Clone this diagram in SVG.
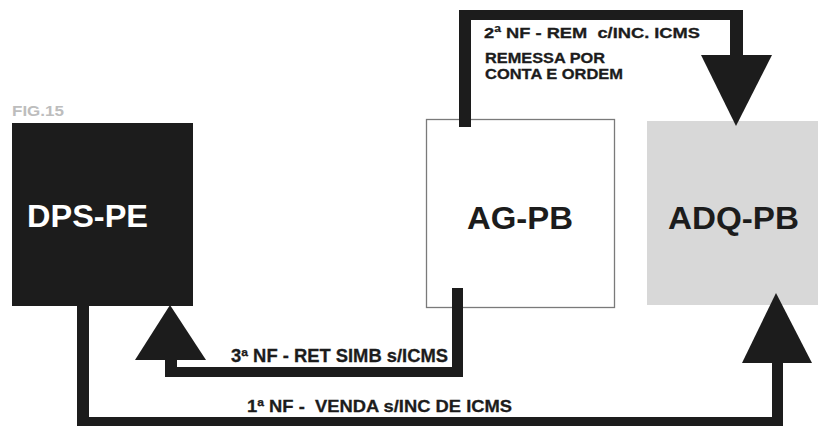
<svg xmlns="http://www.w3.org/2000/svg" width="818" height="426" viewBox="0 0 818 426">
  <style>
    .lbl { font-family: "Liberation Sans", Arial, sans-serif; font-weight: bold; }
    .bar { fill: #1c1c1c; }
    .node-title { font-family: "Liberation Sans", Arial, sans-serif; font-weight: bold; font-size: 31px; }
    .edge-label { font-family: "Liberation Sans", Arial, sans-serif; font-weight: bold; fill: #1c1c1c; stroke: #1c1c1c; stroke-width: 0.3; white-space: pre; }
  </style>
  <rect width="818" height="426" fill="#ffffff"/>
  <text x="12" y="116" class="lbl" font-size="14" fill="#bdbdbd" textLength="52" lengthAdjust="spacingAndGlyphs">FIG.15</text>

  <g id="node-dps-pe">
    <rect x="12" y="123" width="181" height="183" fill="#1c1c1c"/>
    <text x="27" y="227" class="node-title" fill="#ffffff" textLength="121" lengthAdjust="spacingAndGlyphs">DPS-PE</text>
  </g>
  <g id="node-ag-pb">
    <rect x="426.5" y="119.5" width="188" height="188" fill="#ffffff" stroke="#7a7a7a" stroke-width="1.3"/>
    <text x="467" y="229" class="node-title" fill="#1c1c1c" textLength="106" lengthAdjust="spacingAndGlyphs">AG-PB</text>
  </g>
  <g id="node-adq-pb">
    <rect x="647" y="121" width="171" height="184" fill="#d8d8d8"/>
    <text x="668" y="229" class="node-title" fill="#1c1c1c" textLength="131" lengthAdjust="spacingAndGlyphs">ADQ-PB</text>
  </g>

  <g id="connectors">
    <g id="edge-2nf">
      <rect class="bar" x="459" y="10" width="12" height="117"/>
      <rect class="bar" x="459" y="10" width="284" height="10"/>
      <rect class="bar" x="730" y="10" width="13" height="46"/>
      <polygon class="bar" points="701,55 772,55 736,126"/>
      <text x="484" y="38" class="edge-label" font-size="15.5" textLength="216" lengthAdjust="spacingAndGlyphs" xml:space="preserve">2ª NF - REM  c/INC. ICMS</text>
      <text x="485" y="63" class="edge-label" font-size="14.5" textLength="120" lengthAdjust="spacingAndGlyphs">REMESSA POR</text>
      <text x="485" y="79" class="edge-label" font-size="14.5" textLength="138" lengthAdjust="spacingAndGlyphs">CONTA E ORDEM</text>
    </g>
    <g id="edge-3nf">
      <rect class="bar" x="452" y="288" width="11" height="89"/>
      <rect class="bar" x="165" y="367" width="298" height="10"/>
      <rect class="bar" x="165" y="358" width="12" height="19"/>
      <polygon class="bar" points="135,360 206,360 170,305"/>
      <text x="231" y="362" class="edge-label" font-size="18" textLength="217" lengthAdjust="spacingAndGlyphs">3ª NF - RET SIMB s/ICMS</text>
    </g>
    <g id="edge-1nf">
      <rect class="bar" x="77" y="305" width="12" height="121"/>
      <rect class="bar" x="77" y="417" width="706" height="9"/>
      <rect class="bar" x="772" y="361" width="11" height="65"/>
      <polygon class="bar" points="742,363 812,363 776,293"/>
      <text x="247" y="412" class="edge-label" font-size="17" textLength="265" lengthAdjust="spacingAndGlyphs" xml:space="preserve">1ª NF -  VENDA s/INC DE ICMS</text>
    </g>
  </g>
</svg>
